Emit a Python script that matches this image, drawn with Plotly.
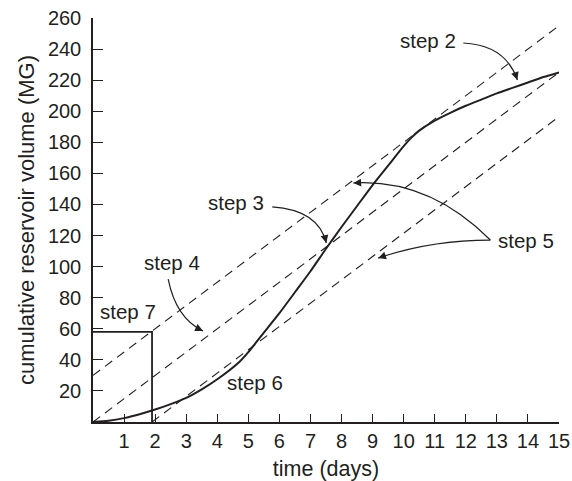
import math
import plotly.graph_objects as go

# ---- data ----
days = [0, 0.5, 1, 1.5, 2, 2.5, 3, 3.5, 4, 4.7, 5, 5.5, 6, 6.5, 7, 7.5, 8, 8.5, 9, 9.5, 10, 10.25, 10.5, 11, 11.5, 12, 12.5, 13, 13.5, 14, 14.5, 15]
cumulative_volume = [0, 0.8, 2.5, 5, 8, 11.5, 15.5, 21, 27.5, 38.5, 45, 57.5, 70, 83.5, 97, 111.5, 125.5, 139, 152.5, 165, 177.5, 183, 187.5, 194, 199, 203.5, 207.5, 211.5, 215, 218.5, 222, 225]

line_days_upper = [0, 15]
line_vol_upper = [30, 255]
line_days_mid = [0, 15]
line_vol_mid = [0, 225]
line_days_lower = [1.9, 15]
line_vol_lower = [0, 196.5]

storage_day = [0, 1.9, 1.9]
storage_vol = [58, 58, 0]

x_ticks = list(range(1, 16))
y_ticks = list(range(20, 261, 20))

step_labels = ["step 2", "step 3", "step 4", "step 5", "step 6", "step 7"]
step_x = [10.78, 4.61, 2.55, 13.95, 5.2, 1.14]
step_y = [245.8, 141.2, 102.6, 116.5, 25.4, 71.1]

# curved arrows: (start, control, tip) in data coordinates
arrows = [
    ((11.92, 243.9), (13.28, 242.6), (13.66, 220.1)),   # step 2
    ((5.77, 138.4), (7.25, 136.4), (7.51, 115.2)),      # step 3
    ((2.42, 92.0), (2.67, 66.9), (3.54, 58.6)),         # step 4
    ((12.79, 117.1), (10.81, 156.7), (8.38, 153.8)),    # step 5 upper
    ((12.79, 117.1), (10.86, 117.1), (9.18, 105.5)),    # step 5 lower
]

INK = "#231f20"
FONT = "Liberation Sans, Arial, sans-serif"

W, H = 572, 481
ML, MR, MT, MB = 93, 13, 18, 59
X_RANGE = [0, 15]
Y_RANGE = [0, 260]
PX_X = (W - ML - MR) / (X_RANGE[1] - X_RANGE[0])
PX_Y = (H - MT - MB) / (Y_RANGE[1] - Y_RANGE[0])

fig = go.Figure()

dash = "9px,6px"
for xs, ys in [(line_days_upper, line_vol_upper), (line_days_mid, line_vol_mid), (line_days_lower, line_vol_lower)]:
    fig.add_trace(go.Scatter(x=xs, y=ys, mode="lines", line=dict(color=INK, width=1.1, dash=dash),
                             showlegend=False, hoverinfo="skip"))

fig.add_trace(go.Scatter(x=storage_day, y=storage_vol, mode="lines", line=dict(color=INK, width=1.8),
                         showlegend=False, hoverinfo="skip"))

fig.add_trace(go.Scatter(x=days, y=cumulative_volume, mode="lines",
                         line=dict(color=INK, width=2, shape="spline", smoothing=0.6),
                         showlegend=False))

shapes = []
annotations = []
for (p0, c, p2) in arrows:
    shapes.append(dict(type="path", xref="x", yref="y",
                       path=f"M {p0[0]},{p0[1]} Q {c[0]},{c[1]} {p2[0]},{p2[1]}",
                       line=dict(color=INK, width=1.2)))
    dxp = (p2[0] - c[0]) * PX_X
    dyp = (p2[1] - c[1]) * PX_Y
    n = math.hypot(dxp, dyp)
    back = 9.0
    annotations.append(dict(x=p2[0], y=p2[1], xref="x", yref="y",
                            ax=p2[0] - back * dxp / n / PX_X, ay=p2[1] - back * dyp / n / PX_Y,
                            axref="x", ayref="y", text="", showarrow=True,
                            arrowhead=2, arrowsize=1.3, arrowwidth=1.2, arrowcolor=INK, standoff=0))

for t, x, y in zip(step_labels, step_x, step_y):
    annotations.append(dict(x=x, y=y, xref="x", yref="y", text=t, showarrow=False,
                            font=dict(family=FONT, size=20.5, color=INK)))

fig.update_layout(
    width=W, height=H,
    margin=dict(l=ML, r=MR, t=MT, b=MB),
    paper_bgcolor="white", plot_bgcolor="white",
    font=dict(family=FONT, size=20, color=INK),
    shapes=shapes, annotations=annotations,
)
fig.update_xaxes(range=X_RANGE, tickvals=x_ticks, ticktext=[str(v) for v in x_ticks],
                 showgrid=False, zeroline=False, showline=True, linecolor=INK, linewidth=1.5,
                 ticks="inside", ticklen=8, tickwidth=1.3, tickcolor=INK, automargin=False,
                 tickfont=dict(size=20), ticklabelstandoff=0,
                 title=dict(text="time (days)", font=dict(size=21.5), standoff=10))
fig.update_yaxes(range=Y_RANGE, tickvals=y_ticks, ticktext=[str(v) for v in y_ticks],
                 showgrid=False, zeroline=False, showline=True, linecolor=INK, linewidth=1.5,
                 ticks="inside", ticklen=10, tickwidth=1.3, tickcolor=INK, automargin=False,
                 tickfont=dict(size=20), ticklabelstandoff=6,
                 title=dict(text="cumulative reservoir volume (MG)", font=dict(size=22), standoff=7))

fig.write_html("out.html", config={"displayModeBar": False},
               post_script="document.body.style.margin='0';document.body.style.padding='0';")
